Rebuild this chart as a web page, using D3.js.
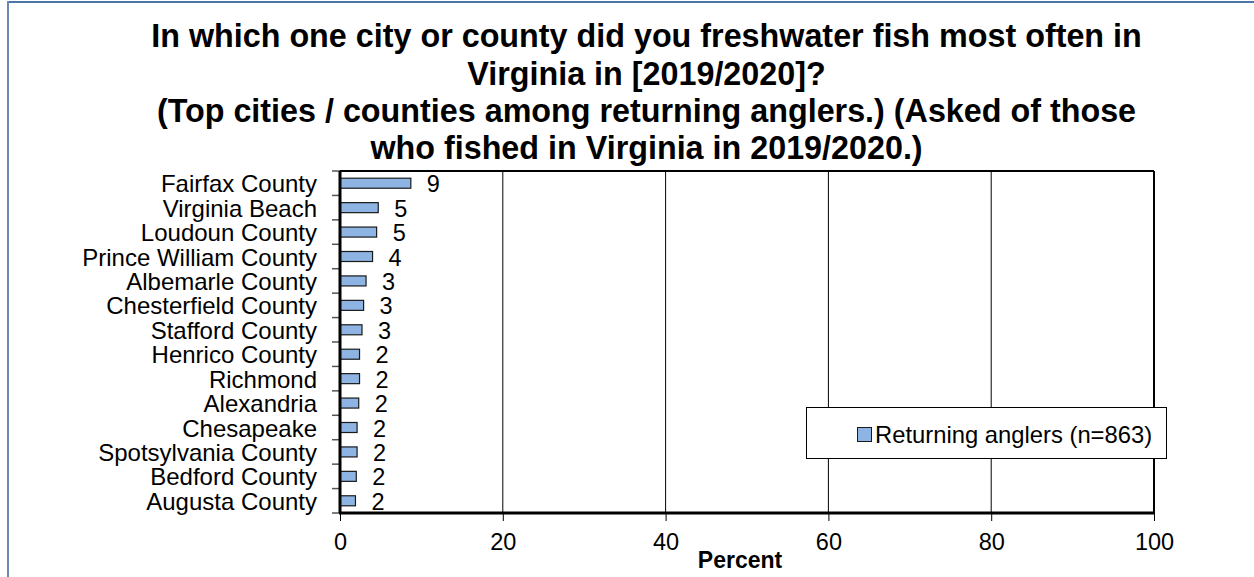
<!DOCTYPE html>
<html><head><meta charset="utf-8">
<script src="https://cdn.jsdelivr.net/npm/d3@7"></script>
<style>body{margin:0;background:#fff;}svg{display:block;font-family:"Liberation Sans",Arial,sans-serif;}</style>
</head><body>
<svg id="c" width="1254" height="577"></svg>
<script>
const categories = ["Fairfax County","Virginia Beach","Loudoun County","Prince William County","Albemarle County","Chesterfield County","Stafford County","Henrico County","Richmond","Alexandria","Chesapeake","Spotsylvania County","Bedford County","Augusta County"];
const values = [8.7,4.7,4.5,4.0,3.2,2.9,2.7,2.4,2.4,2.3,2.1,2.1,2.0,1.9];
const valueLabels = ["9","5","5","4","3","3","3","2","2","2","2","2","2","2"];
const xTicks = [0,20,40,60,80,100];
const titleLines = ["In which one city or county did you freshwater fish most often in","Virginia in [2019/2020]?","(Top cities / counties among returning anglers.) (Asked of those","who fished in Virginia in 2019/2020.)"];
const seriesName = "Returning anglers (n=863)";
const xTitle = "Percent";

const svg = d3.select("#c");
// outer frame
svg.append("line").attr("x1",8).attr("x2",1254).attr("y1",2).attr("y2",2).attr("stroke","#4a76a8").attr("stroke-width",2);
svg.append("line").attr("x1",8).attr("x2",8).attr("y1",1).attr("y2",577).attr("stroke","#6a8ab0").attr("stroke-width",2);

const L=340,R=1154,T=171,B=513;
const x = d3.scaleLinear().domain([0,100]).range([L,R]);
const y = d3.scaleBand().domain(categories).range([T,B]).paddingInner(0.59).paddingOuter(0.295);
const step = (B-T)/categories.length;

// title
svg.append("g").selectAll("text").data(titleLines).join("text")
  .attr("x",646.5).attr("y",(d,i)=>47.3+i*37.3).attr("text-anchor","middle")
  .attr("font-size",32.3).attr("font-weight","bold").attr("fill","#000").text(d=>d);

// gridlines
svg.append("g").selectAll("line").data(xTicks.filter(t=>t>0&&t<100)).join("line")
  .attr("x1",d=>x(d)).attr("x2",d=>x(d)).attr("y1",T).attr("y2",B)
  .attr("stroke","#000").attr("stroke-width",1);

// bars
svg.append("g").selectAll("rect").data(values).join("rect")
  .attr("x",x(0)).attr("y",(d,i)=>y(categories[i]))
  .attr("width",d=>x(d)-x(0)).attr("height",y.bandwidth())
  .attr("fill","#8db4e2").attr("stroke","#1a1a1a").attr("stroke-width",1.2);

// value labels
svg.append("g").selectAll("text").data(values).join("text")
  .attr("x",d=>x(d)+16).attr("y",(d,i)=>y(categories[i])+y.bandwidth()/2+9)
  .attr("font-size",23.5).attr("fill","#000").text((d,i)=>valueLabels[i]);

// plot border top & right
svg.append("line").attr("x1",L).attr("x2",R).attr("y1",T).attr("y2",T).attr("stroke","#000").attr("stroke-width",2);
svg.append("line").attr("x1",R).attr("x2",R).attr("y1",T).attr("y2",B).attr("stroke","#000").attr("stroke-width",2);

// y axis
const yg = svg.append("g").attr("transform",`translate(${L},0)`);
const bounds = d3.range(categories.length+1).map(i=>T+i*step);
yg.selectAll("line.tk").data(bounds).join("line").attr("class","tk")
  .attr("x1",-8).attr("x2",0).attr("y1",d=>d).attr("y2",d=>d).attr("stroke","#555").attr("stroke-width",1.5);
yg.selectAll("text").data(categories).join("text")
  .attr("x",-23).attr("y",(d,i)=>T+(i+0.5)*step+9)
  .attr("text-anchor","end").attr("font-size",24).attr("fill","#000").text(d=>d);
yg.append("line").attr("x1",0).attr("x2",0).attr("y1",T).attr("y2",B).attr("stroke","#000").attr("stroke-width",3);

// x axis
const xg = svg.append("g").attr("transform",`translate(0,${B})`)
  .call(d3.axisBottom(x).tickValues(xTicks).tickSize(8).tickPadding(0));
xg.select(".domain").remove();
xg.selectAll(".tick line").attr("stroke","#000").attr("stroke-width",1);
xg.selectAll(".tick text").attr("font-size",23.5).attr("fill","#000").attr("font-family","Liberation Sans, Arial, sans-serif").attr("dy",null).attr("y",37);
svg.append("line").attr("x1",L-1).attr("x2",R+1).attr("y1",B).attr("y2",B).attr("stroke","#000").attr("stroke-width",3);

svg.append("text").attr("x",740).attr("y",568).attr("text-anchor","middle")
  .attr("font-size",23).attr("font-weight","bold").text(xTitle);

// legend
const lg = svg.append("g");
lg.append("rect").attr("x",806.5).attr("y",407.5).attr("width",360).attr("height",51).attr("fill","#fff").attr("stroke","#000").attr("stroke-width",1);
lg.append("rect").attr("x",857.5).attr("y",427.5).attr("width",14).attr("height",14).attr("fill","#8db4e2").attr("stroke","#1a1a1a");
lg.append("text").attr("x",875).attr("y",443).attr("font-size",23.8).attr("fill","#000").text(seriesName);
</script>
</body></html>
